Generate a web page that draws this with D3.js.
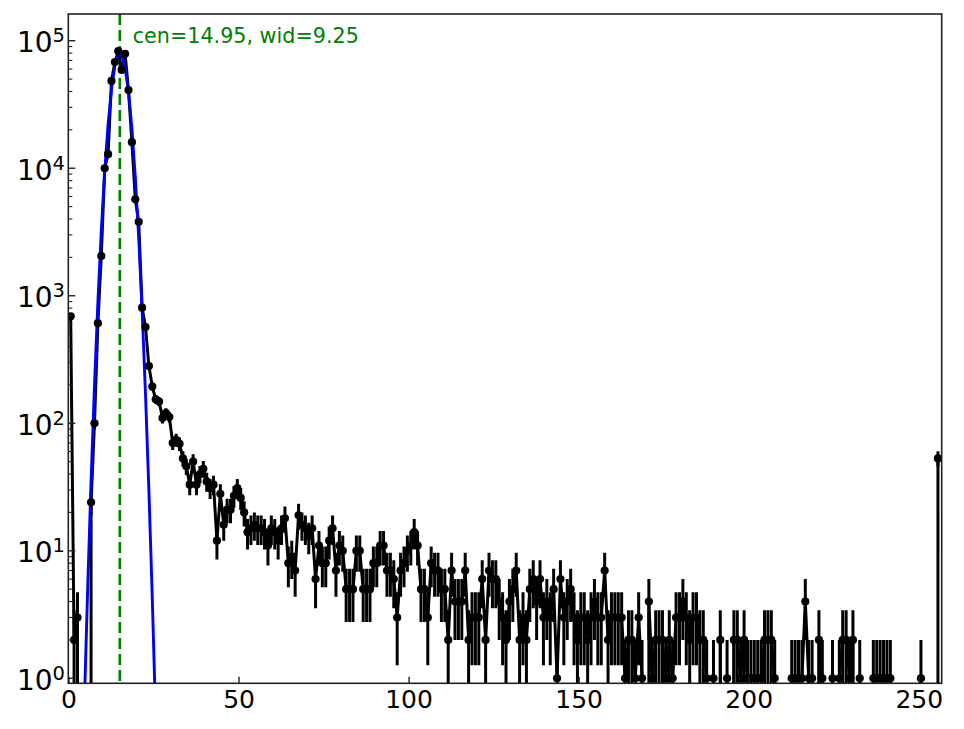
<!DOCTYPE html>
<html>
<head>
<meta charset="utf-8">
<script src="https://cdn.jsdelivr.net/npm/d3@7"></script>
<style>
  html, body { margin: 0; padding: 0; background: #fff; }
  svg { display: block; font-family: "DejaVu Sans", sans-serif; }
</style>
</head>
<body>
<svg id="chart" width="964" height="729"></svg>
<script>
// ---- data ----
// counts per bin; bin i is plotted at x = i + 0.5
const counts = [
  690, 2, 3, 0, 0, 0, 24, 100, 610, 2050,
  10000, 12900, 48400, 68000, 83000, 59000, 79000, 41000, 16000, 5700,
  3800, 807, 569, 281, 194, 154, 148, 110, 120, 112,
  70, 74, 69, 53, 46, 33, 50, 33, 40, 44,
  35, 31, 33, 12, 28, 16, 21, 21, 27, 31,
  26, 20, 14, 15, 16, 15, 15, 14, 11, 15,
  14, 12, 15, 18, 8, 9, 7, 19, 16, 15,
  13, 15, 6, 11, 8, 8, 12, 15, 7, 11,
  10, 5, 5, 5, 10, 10, 5, 5, 5, 8,
  8, 11, 11, 7, 7, 6, 3, 7, 8, 10,
  11, 14, 11, 5, 5, 3, 8, 7, 7, 5,
  5, 2, 7, 4, 4, 4, 7, 2, 3, 3,
  3, 6, 2, 7, 6, 6, 4, 3, 2, 4,
  5, 7, 2, 3, 2, 5, 6, 4, 6, 3,
  4, 3, 5, 1, 6, 3, 4, 5, 3, 2,
  3, 3, 2, 3, 4, 3, 3, 7, 2, 3,
  3, 3, 3, 1, 2, 2, 1, 3, 1, 0,
  4, 1, 2, 2, 2, 1, 2, 1, 3, 3,
  4, 3, 2, 3, 3, 2, 2, 1, 0, 1,
  0, 2, 0, 1, 0, 2, 2, 1, 2, 1,
  1, 1, 1, 1, 2, 2, 2, 1, 0, 0,
  0, 0, 1, 1, 1, 1, 4, 1, 1, 0,
  2, 1, 0, 0, 1, 0, 1, 2, 2, 1,
  2, 0, 1, 0, 0, 0, 1, 1, 1, 1,
  1, 1, 0, 0, 0, 0, 0, 0, 0, 0,
  1, 0, 0, 0, 0, 53
];

// Gaussian fit curve as drawn (blue), sampled at the bin centres
const fitX = [3.5, 4.5, 5.5, 6.5, 7.5, 8.5, 9.5, 10.5, 11.5, 12.5, 13.5, 14.5,
              15.5, 16.5, 17.5, 18.5, 19.5, 20.5, 21.5, 22.5, 23.5, 24.5, 25.5, 26.5];
const fitY = [0.056, 0.595, 5.1, 35.5, 198, 891, 3226, 9410, 22100, 41800, 63700, 78300,
              77400, 61700, 39600, 20500, 8530, 2864, 775, 169, 29.6, 4.2, 0.48, 0.04];

const centre = 14.95;
const annotation = "cen=14.95, wid=9.25";
const xTicks = [0, 50, 100, 150, 200, 250];
const yTickExps = [0, 1, 2, 3, 4, 5];

// ---- layout ----
const L = 68.3, R = 941.7, T = 14, B = 683.3;
const svg = d3.select("#chart");

const x = d3.scaleLinear().domain([-0.2, 256.6]).range([L, R]);
const y = d3.scaleLog().domain([0.914, 1.62e5]).range([B, T]);
const yy = v => (v > 0 ? y(v) : 40000);   // non-positive values clipped far below the axis

svg.append("defs").append("clipPath").attr("id", "plotclip")
  .append("rect").attr("x", L).attr("y", T).attr("width", R - L).attr("height", B - T);

const g = svg.append("g").attr("clip-path", "url(#plotclip)");

const pts = counts.map((c, i) => ({ x: i + 0.5, c: c, e: Math.sqrt(c) }));

// green dashed centre line
g.append("line")
  .attr("x1", x(centre)).attr("x2", x(centre)).attr("y1", T).attr("y2", B)
  .attr("stroke", "#008000").attr("stroke-width", 2.7)
  .attr("stroke-dasharray", "11,5");

// black connecting line
g.append("path")
  .datum(pts)
  .attr("fill", "none").attr("stroke", "#000").attr("stroke-width", 3)
  .attr("stroke-linejoin", "round")
  .attr("d", d3.line().x(d => x(d.x)).y(d => yy(d.c)));

// error bars
g.selectAll("line.err").data(pts.filter(d => d.c > 0)).join("line")
  .attr("class", "err")
  .attr("x1", d => x(d.x)).attr("x2", d => x(d.x))
  .attr("y1", d => yy(d.c - d.e)).attr("y2", d => yy(d.c + d.e))
  .attr("stroke", "#000").attr("stroke-width", 3);

// blue fit
g.append("path")
  .datum(fitX.map((v, i) => ({ x: v, y: fitY[i] })))
  .attr("fill", "none").attr("stroke", "#0000ff").attr("stroke-width", 2.9)
  .attr("stroke-linejoin", "round")
  .attr("d", d3.line().x(d => x(d.x)).y(d => yy(d.y)));

// markers
g.selectAll("circle").data(pts.filter(d => d.c > 0)).join("circle")
  .attr("cx", d => x(d.x)).attr("cy", d => yy(d.c)).attr("r", 4.1)
  .attr("fill", "#000");

// annotation
svg.append("text")
  .attr("x", 132.7).attr("y", 42.7)
  .attr("font-size", 20.7).attr("fill", "#008000")
  .text(annotation);

// frame
svg.append("rect").attr("x", L).attr("y", T).attr("width", R - L).attr("height", B - T)
  .attr("fill", "none").attr("stroke", "#222").attr("stroke-width", 1.6);

// x ticks (inward)
const xAxisG = svg.append("g");
xTicks.forEach(t => {
  xAxisG.append("line").attr("x1", x(t)).attr("x2", x(t)).attr("y1", B).attr("y2", B - 6.5)
    .attr("stroke", "#222").attr("stroke-width", 1.4);
  xAxisG.append("text").attr("x", x(t)).attr("y", 708.3).attr("text-anchor", "middle")
    .attr("font-size", 25).attr("fill", "#000").text(t);
});

// y ticks (log, inward) with minor ticks
const yAxisG = svg.append("g");
yTickExps.forEach(k => {
  const v = Math.pow(10, k);
  yAxisG.append("line").attr("x1", L).attr("x2", L + 7).attr("y1", y(v)).attr("y2", y(v))
    .attr("stroke", "#222").attr("stroke-width", 1.4);
  const txt = yAxisG.append("text").attr("x", 65).attr("y", y(v) + 11.7)
    .attr("text-anchor", "end").attr("fill", "#000").attr("font-size", 28);
  txt.append("tspan").text("10");
  txt.append("tspan").attr("dy", -10).attr("font-size", 19.5).text(String(k));
});
const [ymin, ymax] = y.domain();
for (let k = -1; k <= 5; k++) {
  for (let m = 2; m <= 9; m++) {
    const v = m * Math.pow(10, k);
    if (v < ymin || v > ymax) continue;
    yAxisG.append("line").attr("x1", L).attr("x2", L + 4).attr("y1", y(v)).attr("y2", y(v))
      .attr("stroke", "#222").attr("stroke-width", 1.1);
  }
}
</script>
</body>
</html>
